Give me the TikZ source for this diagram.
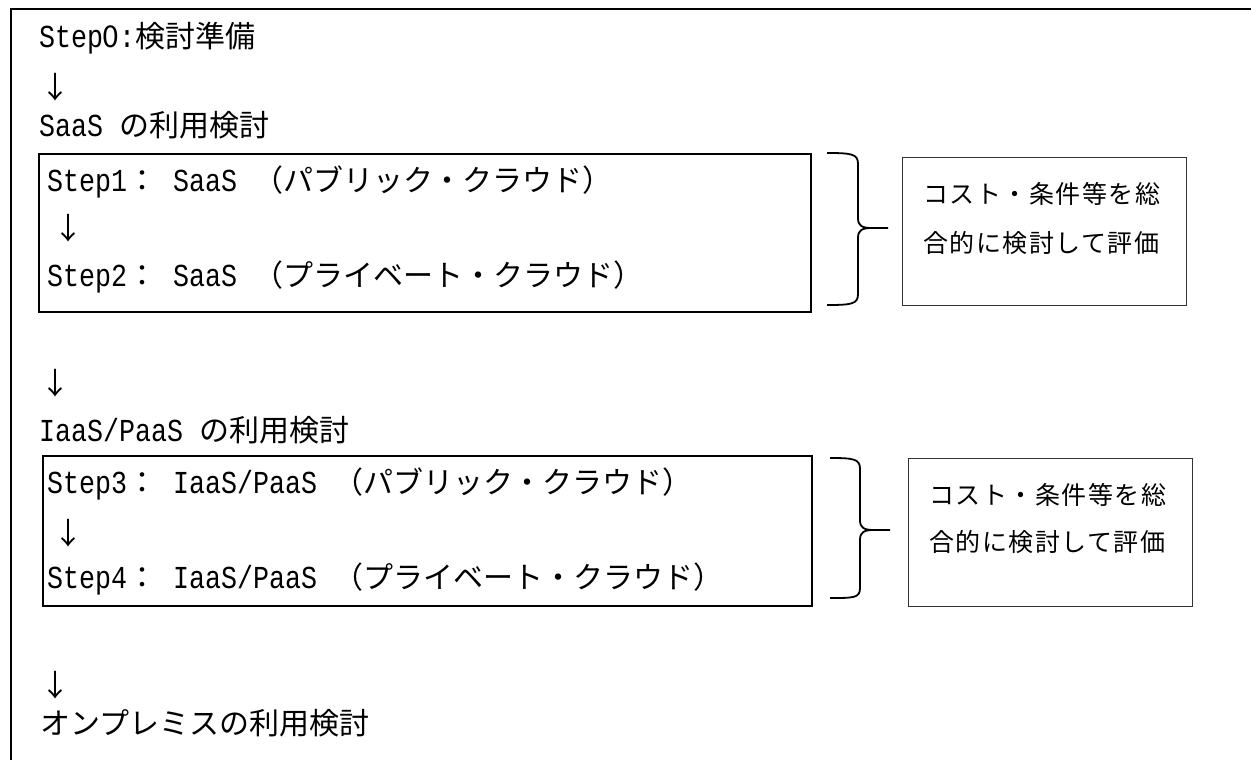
\documentclass[tikz,border=0pt]{standalone}
\usepackage{fontspec}
\setmainfont{Noto Sans CJK JP}
\newfontfamily\lat{Liberation Mono}[Scale=1.0667, FakeStretch=0.8333]
\newfontfamily\sidefont{Noto Sans CJK JP}[LetterSpace=6]
\newcommand{\hs}{\hspace*{16pt}}
\newcommand{\zerodigit}{\makebox[16pt]{0}}
\begin{document}
\begin{tikzpicture}[x=1pt,y=-1pt,
  txt/.style={anchor=west, inner sep=0pt, font=\fontsize{30}{36}\selectfont, text height=26pt, text depth=4pt},
  arr/.style={anchor=center, inner sep=0pt, font=\fontsize{30}{36}\selectfont, text height=26pt, text depth=4pt},
  side/.style={anchor=west, inner sep=0pt, font=\sidefont\fontsize{25}{30}\selectfont, text height=22pt, text depth=3pt},
  mainbox/.style={draw, line width=2.4pt, anchor=north west, inner sep=0pt},
  sidebox/.style={draw=black!80, line width=1.4pt, anchor=north west, inner sep=0pt},
  bracepath/.style={line width=1.8pt, line join=round}
]
\useasboundingbox (0,0) rectangle (1251,760);
\fill[white] (0,0) rectangle (1251,760);
% outer frame (only top and left visible)
\draw[line width=2.6pt] (11,760) -- (11,9) -- (1251,9);

\node[txt] (s0) at (39,37) {{\lat Step}\zerodigit{\lat :}検討準備};
\node[arr] (a0) at (55,88) {↓};
\node[txt] (saas) at (39,125) {{\lat SaaS}\hs の利用検討};

\node[mainbox, minimum width=772pt, minimum height=158pt] (b1) at (38,153) {};
\node[txt] (s1) at (47,180) {{\lat Step1}：\hs{\lat SaaS}\hs（パブリック・クラウド）};
\node[arr] (a1) at (68,228) {↓};
\node[txt] (s2) at (47,275) {{\lat Step2}：\hs{\lat SaaS}\hs（プライベート・クラウド）};

\draw[bracepath] (827,153) .. controls (852,153) and (858,154) .. (858,164)
  -- (858,218) .. controls (858,226) and (862,228) .. (872,228) -- (888,228)
  (872,228) .. controls (862,228) and (858,230) .. (858,238)
  -- (858,294) .. controls (858,304) and (852,305) .. (827,305);

\node[sidebox, minimum width=284pt, minimum height=148pt] (r1) at (902,157) {};
\node[side] (r1a) at (923,194) {コスト・条件等を総};
\node[side] (r1b) at (923,243) {合的に検討して評価};

\node[arr] (a2) at (55,383) {↓};
\node[txt] (iaas) at (39,430) {{\lat IaaS/PaaS}\hs の利用検討};

\node[mainbox, minimum width=769pt, minimum height=150pt] (b2) at (42,455) {};
\node[txt] (s3) at (47,482) {{\lat Step3}：\hs{\lat IaaS/PaaS}\hs（パブリック・クラウド）};
\node[arr] (a3) at (68,533) {↓};
\node[txt] (s4) at (47,577) {{\lat Step4}：\hs{\lat IaaS/PaaS}\hs（プライベート・クラウド）};

\draw[bracepath] (830,458) .. controls (854,458) and (860,459) .. (860,469)
  -- (860,520) .. controls (860,528) and (864,530) .. (874,530) -- (890,530)
  (874,530) .. controls (864,530) and (860,532) .. (860,540)
  -- (860,588) .. controls (860,598) and (854,598) .. (830,598);

\node[sidebox, minimum width=284pt, minimum height=148pt] (r2) at (908,458) {};
\node[side] (r2a) at (929,495) {コスト・条件等を総};
\node[side] (r2b) at (929,542) {合的に検討して評価};

\node[arr] (a4) at (55,685) {↓};
\node[txt] (onp) at (40,723) {オンプレミスの利用検討};
\end{tikzpicture}
\end{document}
